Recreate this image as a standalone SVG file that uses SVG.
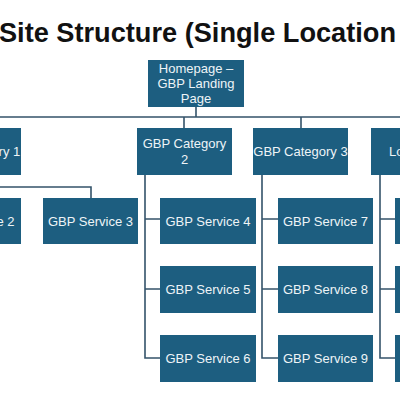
<svg xmlns="http://www.w3.org/2000/svg" width="400" height="400" viewBox="0 0 400 400">
<style>
.box{fill:#1d5e80}
.lbl{fill:#eef4f7;font-family:"Liberation Sans",Arial,sans-serif;font-size:13px;text-anchor:middle}
.ln{fill:none;stroke:#34536a;stroke-width:1.6}
.title{fill:#111;font-family:"Liberation Sans",Arial,sans-serif;font-weight:bold;font-size:28px}
</style>
<rect width="400" height="400" fill="#ffffff"/>
<text class="title" x="-1" y="42" textLength="397" lengthAdjust="spacingAndGlyphs">Site Structure (Single Location</text>
<g id="connectors">
<path class="ln" d="M196 107V117M-30 117H400M184 117V128M301 117V128"/>
<path class="ln" d="M0 187H91V198"/>
<path class="ln" d="M145 175V358H160M145 219H160M145 289H160"/>
<path class="ln" d="M262 175V358H278M262 219H278M262 289H278"/>
<path class="ln" d="M380 175V358H395M380 219H395M380 289H395"/>
</g>
<g id="home"><rect class="box" x="148" y="60" width="96" height="47"/>
<text class="lbl" x="196" y="72.5">Homepage –</text><text class="lbl" x="196" y="87.5">GBP Landing</text><text class="lbl" x="196" y="102.5">Page</text></g>
<g id="cat1"><rect class="box" x="-74" y="128" width="95" height="47"/><text class="lbl" x="-27" y="156">GBP Category 1</text></g>
<g id="cat2"><rect class="box" x="137" y="128" width="95" height="47"/><text class="lbl" x="184.5" y="148">GBP Category</text><text class="lbl" x="184.5" y="164">2</text></g>
<g id="cat3"><rect class="box" x="253" y="128" width="95" height="47"/><text class="lbl" x="300.5" y="156">GBP Category 3</text></g>
<g id="cat4"><rect class="box" x="371" y="128" width="95" height="47"/><text class="lbl" x="389" y="156" style="text-anchor:start">Lo</text></g>
<g id="svc2"><rect class="box" x="-75" y="198" width="96" height="46"/><text class="lbl" x="-28" y="225.5">GBP Service 2</text></g>
<g id="svc3"><rect class="box" x="43" y="198" width="95" height="46"/><text class="lbl" x="90.5" y="225.5">GBP Service 3</text></g>
<g id="svc4"><rect class="box" x="160" y="198" width="96" height="46"/><text class="lbl" x="208" y="225.5">GBP Service 4</text></g>
<g id="svc5"><rect class="box" x="160" y="266" width="96" height="47"/><text class="lbl" x="208" y="294">GBP Service 5</text></g>
<g id="svc6"><rect class="box" x="160" y="335" width="96" height="47"/><text class="lbl" x="208" y="363">GBP Service 6</text></g>
<g id="svc7"><rect class="box" x="278" y="198" width="95" height="46"/><text class="lbl" x="325.5" y="225.5">GBP Service 7</text></g>
<g id="svc8"><rect class="box" x="278" y="266" width="95" height="47"/><text class="lbl" x="325.5" y="294">GBP Service 8</text></g>
<g id="svc9"><rect class="box" x="278" y="335" width="95" height="47"/><text class="lbl" x="325.5" y="363">GBP Service 9</text></g>
<g id="svc10"><rect class="box" x="395" y="198" width="95" height="46"/></g>
<g id="svc11"><rect class="box" x="395" y="266" width="95" height="47"/></g>
<g id="svc12"><rect class="box" x="395" y="335" width="95" height="47"/></g>
</svg>
